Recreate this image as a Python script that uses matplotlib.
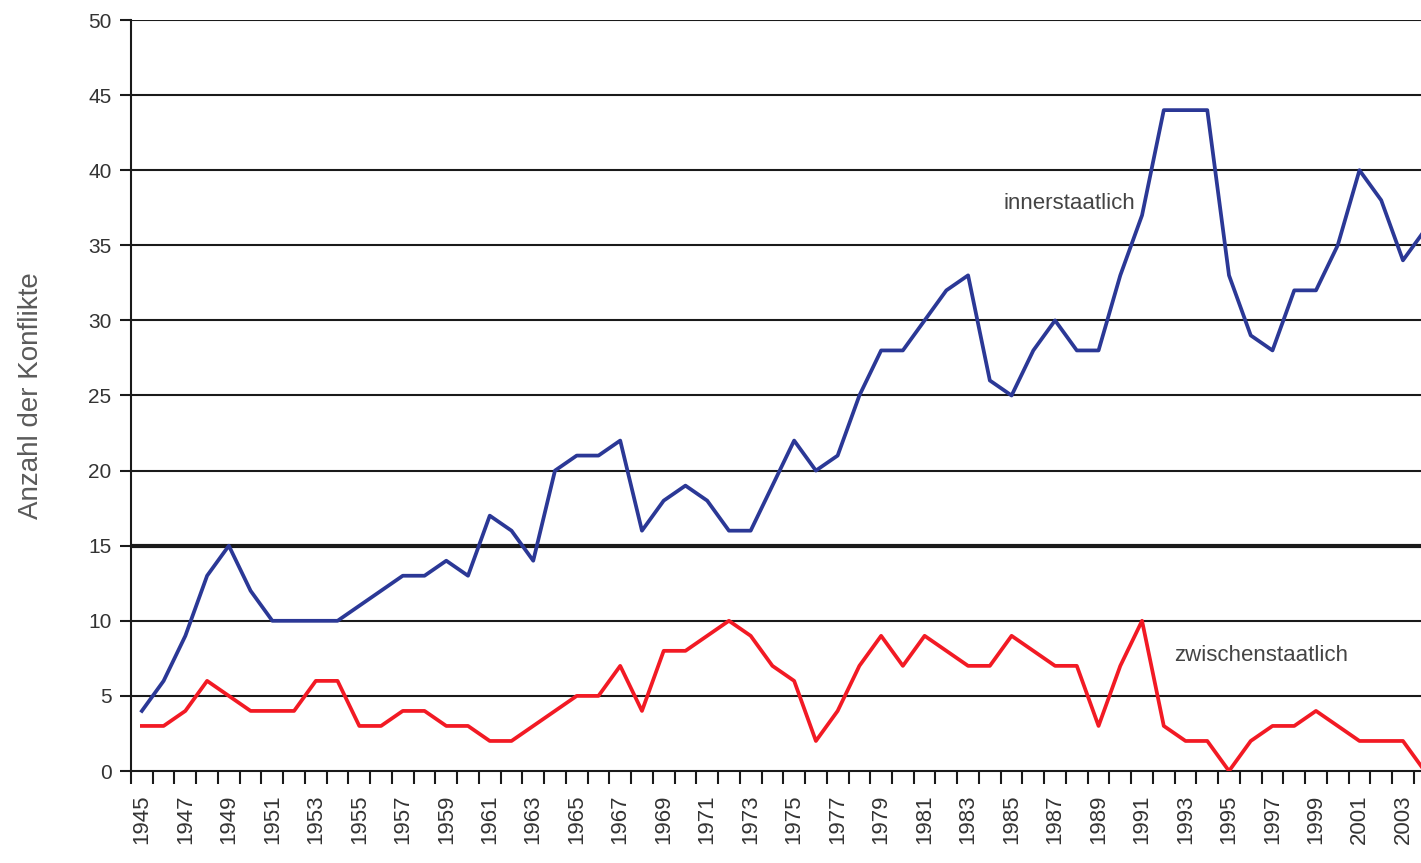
import matplotlib
matplotlib.use("Agg")
import matplotlib.pyplot as plt
from matplotlib import font_manager
import numpy as np

years = list(range(1945, 2005))
innerstaatlich = [4, 6, 9, 13, 15, 12, 10, 10, 10, 10,
                  11, 12, 13, 13, 14, 13, 17, 16, 14, 20,
                  21, 21, 22, 16, 18, 19, 18, 16, 16, 19,
                  22, 20, 21, 25, 28, 28, 30, 32, 33, 26,
                  25, 28, 30, 28, 28, 33, 37, 44, 44, 44,
                  33, 29, 28, 32, 32, 35, 40, 38, 34, 36]
zwischenstaatlich = [3, 3, 4, 6, 5, 4, 4, 4, 6, 6,
                     3, 3, 4, 4, 3, 3, 2, 2, 3, 4,
                     5, 5, 7, 4, 8, 8, 9, 10, 9, 7,
                     6, 2, 4, 7, 9, 7, 9, 8, 7, 7,
                     9, 8, 7, 7, 3, 7, 10, 3, 2, 2,
                     0, 2, 3, 3, 4, 3, 2, 2, 2, 0]
x_labels = [str(y) for y in range(1945, 2004, 2)]
y_ticks = list(range(0, 51, 5))

names = {f.name for f in font_manager.fontManager.ttflist}
narrow = ['Liberation Sans Narrow', 'Liberation Sans', 'DejaVu Sans'] if 'Liberation Sans Narrow' in names else ['Liberation Sans', 'DejaVu Sans']
plt.rcParams['font.family'] = ['Liberation Sans', 'DejaVu Sans']

fig = plt.figure(figsize=(14.21, 8.63), dpi=100)
ax = fig.add_axes([131/1421, 1 - 771/863, 1 - 131/1421, (771 - 20)/863])

ax.set_xlim(1944.5, 2003.83)
ax.set_ylim(0, 50)

# grid lines
for v in y_ticks[1:]:
    ax.axhline(v, color='#1a1a1a', lw=3.0 if v == 15 else 1.5, zorder=1)

ax.plot(years, innerstaatlich, color='#2B3896', lw=2.7, zorder=3, clip_on=True)
ax.plot(years, zwischenstaatlich, color='#F21A24', lw=2.7, zorder=3, clip_on=True)

for s in ['top', 'right']:
    ax.spines[s].set_visible(False)
ax.spines['left'].set_linewidth(1.5)
ax.spines['bottom'].set_linewidth(1.5)
ax.spines['left'].set_color('#1a1a1a')
ax.spines['bottom'].set_color('#1a1a1a')

ax.set_yticks(y_ticks)
ax.set_yticklabels([str(v) for v in y_ticks], family=narrow, fontsize=15, color='#333333')
ax.tick_params(axis='y', direction='out', length=8, width=1.5, color='#1a1a1a', pad=6)

ax.set_xticks(np.arange(1944.5, 2004, 1.0))
ax.set_xticklabels([])
ax.tick_params(axis='x', which='major', direction='out', length=9, width=1.5, color='#1a1a1a')
ax.set_xticks(list(range(1945, 2004, 2)), minor=True)
ax.set_xticklabels(x_labels, minor=True, rotation=90, family=narrow, fontsize=16, color='#333333')
ax.tick_params(axis='x', which='minor', length=0, pad=17)

ax.set_ylabel('Anzahl der Konflikte', fontsize=20, color='#5a5a5a', labelpad=32)

ax.text(1984.64, 37.75, 'innerstaatlich', fontsize=16, color='#444444', va='center', ha='left', family=narrow)
ax.text(1992.47, 7.72, 'zwischenstaatlich', fontsize=16, color='#444444', va='center', ha='left', family=narrow)

fig.savefig('out.png', dpi=100)
